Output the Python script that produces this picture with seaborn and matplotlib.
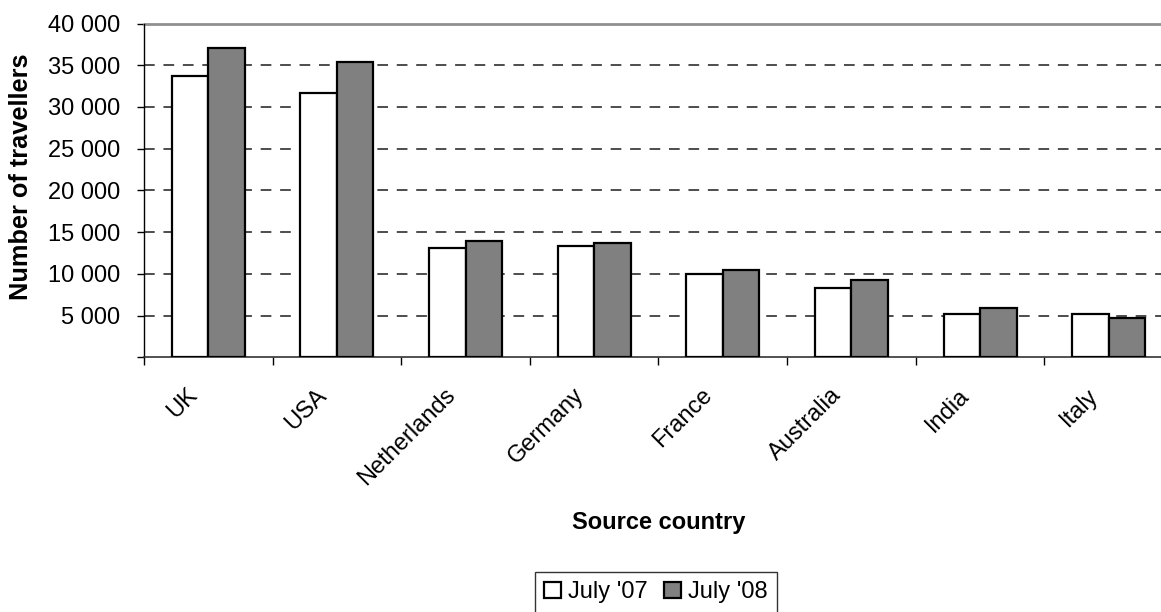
import matplotlib
matplotlib.use("Agg")
import matplotlib.pyplot as plt
from matplotlib.ticker import FixedLocator, FuncFormatter
from matplotlib.transforms import ScaledTranslation
import seaborn as sns
import pandas as pd

countries = ["UK", "USA", "Netherlands", "Germany", "France", "Australia", "India", "Italy"]
july_07 = [33700, 31650, 13150, 13350, 10000, 8350, 5200, 5200]
july_08 = [37100, 35400, 13900, 13650, 10500, 9300, 5950, 4750]
series_names = ["July '07", "July '08"]

df = pd.DataFrame({
    "country": countries * 2,
    "period": [series_names[0]] * len(countries) + [series_names[1]] * len(countries),
    "travellers": july_07 + july_08,
})

sns.set_theme(style="white")
plt.rcParams["font.family"] = ["Liberation Sans", "DejaVu Sans"]
plt.rcParams["text.color"] = "black"
plt.rcParams["axes.labelcolor"] = "black"
plt.rcParams["xtick.color"] = "black"
plt.rcParams["ytick.color"] = "black"

W, H = 1161, 612
FS = 17
fig = plt.figure(figsize=(W / 100, H / 100), dpi=100)
left, right, top, bottom = 144, 1173, 23.5, 357.3
ax = fig.add_axes([left / W, 1 - bottom / H, (right - left) / W, (bottom - top) / H])

sns.barplot(
    data=df, x="country", y="travellers", hue="period", order=countries,
    hue_order=series_names, palette={series_names[0]: "white", series_names[1]: "#808080"},
    width=0.567, edgecolor="black", linewidth=1.6, saturation=1, ax=ax, zorder=3,
)

ax.set_xlim(-0.5, len(countries) - 0.5)
ax.set_ylim(0, 40000)

# horizontal gridlines
for v in range(5000, 40000, 5000):
    ax.axhline(v, color="#4d4d4d", lw=1.4, ls=(0, (5.5, 4.5)), zorder=1)
ax.axhline(40000, color="#909090", lw=2.0, zorder=1, clip_on=False)

for s in ["top", "right"]:
    ax.spines[s].set_visible(False)
ax.spines["left"].set_color("black")
ax.spines["left"].set_linewidth(1.0)
ax.spines["bottom"].set_color("#333333")
ax.spines["bottom"].set_linewidth(1.2)

ax.yaxis.set_major_locator(FixedLocator(range(0, 40001, 5000)))
ax.yaxis.set_major_formatter(FuncFormatter(lambda v, p: "" if v == 0 else f"{int(v):,}".replace(",", " ")))
ax.tick_params(axis="y", which="major", direction="out", length=5, width=1, color="black",
               labelsize=FS, pad=12, left=True)

ax.set_xticks(range(len(countries)))
ax.set_xticklabels(countries, rotation=45, ha="right", va="center", rotation_mode="anchor")
ax.set_xticks([i - 0.5 for i in range(len(countries) + 1)], minor=True)
ax.tick_params(axis="x", which="major", length=0, labelsize=FS, pad=25)
ax.tick_params(axis="x", which="minor", direction="out", length=6, width=1, color="black", bottom=True)
shift = ScaledTranslation(-14 / 100, 0, fig.dpi_scale_trans)
for lbl in ax.get_xticklabels():
    lbl.set_transform(lbl.get_transform() + shift)

ax.set_xlabel("Source country", fontsize=FS, fontweight="bold")
ax.set_ylabel("Number of travellers", fontsize=18.3, fontweight="bold")
ax.xaxis.set_label_coords(0.5, (bottom - 523) / (bottom - top), transform=ax.transAxes)
ax.yaxis.set_label_coords((20.5 - left) / (right - left), (bottom - 176.5) / (bottom - top), transform=ax.transAxes)
ax.xaxis.label.set_va("center")
ax.yaxis.label.set_va("center")

handles, labels = ax.get_legend_handles_labels()
ax.legend(
    handles, labels, loc="upper center", bbox_to_anchor=(656 / W, 1 - 572 / H),
    bbox_transform=fig.transFigure, ncol=2, frameon=True, fancybox=False,
    edgecolor="black", fontsize=FS, handlelength=0.7, handleheight=0.7,
    handletextpad=0.3, columnspacing=0.7, borderpad=0.4, borderaxespad=0,
)
ax.get_legend().get_frame().set_linewidth(1.0)

fig.savefig("out.png", dpi=100)
